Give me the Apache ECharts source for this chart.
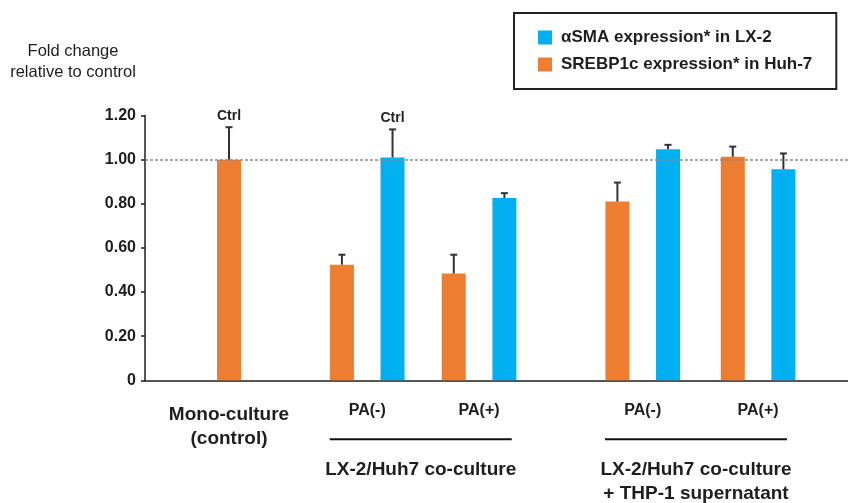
<!DOCTYPE html>
<html><head><meta charset="utf-8">
<script src="https://cdn.jsdelivr.net/npm/echarts@6/dist/echarts.min.js"></script>
<style>html,body{margin:0;padding:0;background:#fff}#c{width:848px;height:503px}</style>
</head><body><div id="c"></div>
<script>
// ---- data ----
const conditionLabels = ['Mono-culture\n(control)', 'PA(-)', 'PA(+)', 'PA(-)', 'PA(+)'];
const groupTitles = ['LX-2/Huh7 co-culture', 'LX-2/Huh7 co-culture\n+ THP-1 supernatant'];
const srebpName = 'SREBP1c expression* in Huh-7';
const asmaName = '\u03b1SMA expression* in LX-2';
const srebpValues = [1.00, 0.524, 0.484, 0.810, 1.013];
const srebpErrors = [0.147, 0.045, 0.085, 0.086, 0.046];
const asmaValues = [null, 1.010, 0.826, 1.047, 0.956];
const asmaErrors = [null, 0.127, 0.022, 0.020, 0.072];
const srebpCtrl = [true, false, false, false, false];
const asmaCtrl = [false, true, false, false, false];
const yTickValues = [0, 0.2, 0.4, 0.6, 0.8, 1.0, 1.2];
const referenceLevel = 1.0;

// ---- layout (x-axis slots, 0..100) ----
const conditionPos = [11.95, 31.61, 47.52, 70.80, 87.21];
const pairOffset = 3.6;
const titlePos = [39.22, 78.38];

const ORANGE = '#ED7D31', BLUE = '#00B0F0', INK = '#1e1e1e';
const FONT = 'Liberation Sans, Arial, sans-serif';

function rows(values, errors, ctrl, side) {
  const out = [];
  values.forEach((v, i) => {
    if (v == null) return;
    const paired = asmaValues[i] != null && srebpValues[i] != null;
    out.push([conditionPos[i] + (paired ? side * pairOffset : 0), v, errors[i], ctrl[i] ? 1 : 0]);
  });
  return out;
}

function renderBar(color) {
  return function (params, api) {
    const x = api.value(0), y = api.value(1), e = api.value(2), c = api.value(3);
    const base = api.coord([x, 0]);
    const top = api.coord([x, y]);
    const et = api.coord([x, y + e]);
    const w = 24;
    const children = [
      { type: 'rect', shape: { x: top[0] - w / 2, y: top[1], width: w, height: base[1] - top[1] }, style: { fill: color } },
      { type: 'line', shape: { x1: top[0], y1: top[1], x2: et[0], y2: et[1] }, style: { stroke: '#333', lineWidth: 2 } },
      { type: 'line', shape: { x1: et[0] - 3.5, y1: et[1], x2: et[0] + 3.5, y2: et[1] }, style: { stroke: '#333', lineWidth: 2 } }
    ];
    if (c) {
      children.push({ type: 'text', style: { text: 'Ctrl', x: et[0], y: et[1] - 11.5, align: 'center', verticalAlign: 'middle', fill: INK, font: 'bold 14px ' + FONT } });
    }
    return { type: 'group', children };
  };
}

const chart = echarts.init(document.getElementById('c'), null, { renderer: 'canvas' });
chart.setOption({
  animation: false,
  backgroundColor: '#fff',
  textStyle: { fontFamily: FONT },
  grid: { left: 145, right: 0, top: 115.5, bottom: 119.5, containLabel: false },
  legend: {
    orient: 'vertical', left: 514, top: 13,
    padding: [16, 24, 16, 24], itemGap: 10,
    borderColor: '#222', borderWidth: 2,
    icon: 'rect', itemWidth: 14, itemHeight: 14,
    data: [asmaName, srebpName],
    textStyle: { fontSize: 17, fontWeight: 'bold', color: INK, fontFamily: FONT, padding: [0, 0, 0, 4] }
  },
  xAxis: [{
    type: 'value', min: 0, max: 100,
    axisLine: { show: true, lineStyle: { color: INK, width: 1.5 } },
    axisTick: { show: false }, splitLine: { show: false },
    axisLabel: {
      customValues: conditionPos, margin: 23,
      formatter: function (v) {
        const i = conditionPos.findIndex(p => Math.abs(p - v) < 1e-6);
        if (i < 0) return '';
        const lines = conditionLabels[i].split('\n');
        const st = lines.length > 1 ? 'm' : 'p';
        return lines.map(l => '{' + st + '|' + l + '}').join('\n');
      },
      rich: {
        m: { fontSize: 19, fontWeight: 'bold', lineHeight: 24, color: INK, fontFamily: FONT },
        p: { fontSize: 16, fontWeight: 'bold', lineHeight: 14, color: INK, fontFamily: FONT }
      }
    }
  }, {
    type: 'value', min: 0, max: 100, position: 'bottom', gridIndex: 0,
    axisLine: { show: false }, axisTick: { show: false }, splitLine: { show: false },
    axisLabel: {
      customValues: titlePos, margin: 58,
      formatter: function (v) {
        const i = titlePos.findIndex(p => Math.abs(p - v) < 1e-6);
        if (i < 0) return '';
        return '{ln|}\n{gap|}\n' + groupTitles[i].split('\n').map(l => '{t|' + l + '}').join('\n');
      },
      rich: {
        ln: { width: 182, height: 2, lineHeight: 2, backgroundColor: '#111' },
        gap: { height: 18, lineHeight: 18 },
        t: { fontSize: 19, fontWeight: 'bold', lineHeight: 23.5, color: INK, fontFamily: FONT }
      }
    }
  }],
  yAxis: {
    type: 'value', min: 0, max: 1.2, interval: 0.2,
    name: 'Fold change\nrelative to control', nameLocation: 'end', nameGap: 33,
    nameTextStyle: { fontSize: 16.5, color: INK, lineHeight: 20.6, align: 'center', padding: [0, 144, 0, 0], fontFamily: FONT },
    axisLine: { show: true, lineStyle: { color: INK, width: 1.5 } },
    axisTick: { show: true, length: 4, lineStyle: { color: INK, width: 1.5 } },
    splitLine: { show: false },
    axisLabel: {
      margin: 9, fontSize: 16, fontWeight: 'bold', color: INK, fontFamily: FONT,
      customValues: yTickValues,
      formatter: v => (Math.abs(v) < 1e-9 ? '0' : v.toFixed(2))
    }
  },
  series: [{
    name: srebpName, type: 'custom', xAxisIndex: 0, itemStyle: { color: ORANGE },
    renderItem: renderBar(ORANGE), encode: { x: 0, y: 1 },
    data: rows(srebpValues, srebpErrors, srebpCtrl, -1),
    markLine: {
      silent: true, symbol: 'none', label: { show: false },
      lineStyle: { type: [3, 2], color: '#8a8a8a', width: 1.5 },
      data: [{ yAxis: referenceLevel }]
    }
  }, {
    name: asmaName, type: 'custom', xAxisIndex: 0, itemStyle: { color: BLUE },
    renderItem: renderBar(BLUE), encode: { x: 0, y: 1 },
    data: rows(asmaValues, asmaErrors, asmaCtrl, 1)
  }]
});
</script></body></html>
